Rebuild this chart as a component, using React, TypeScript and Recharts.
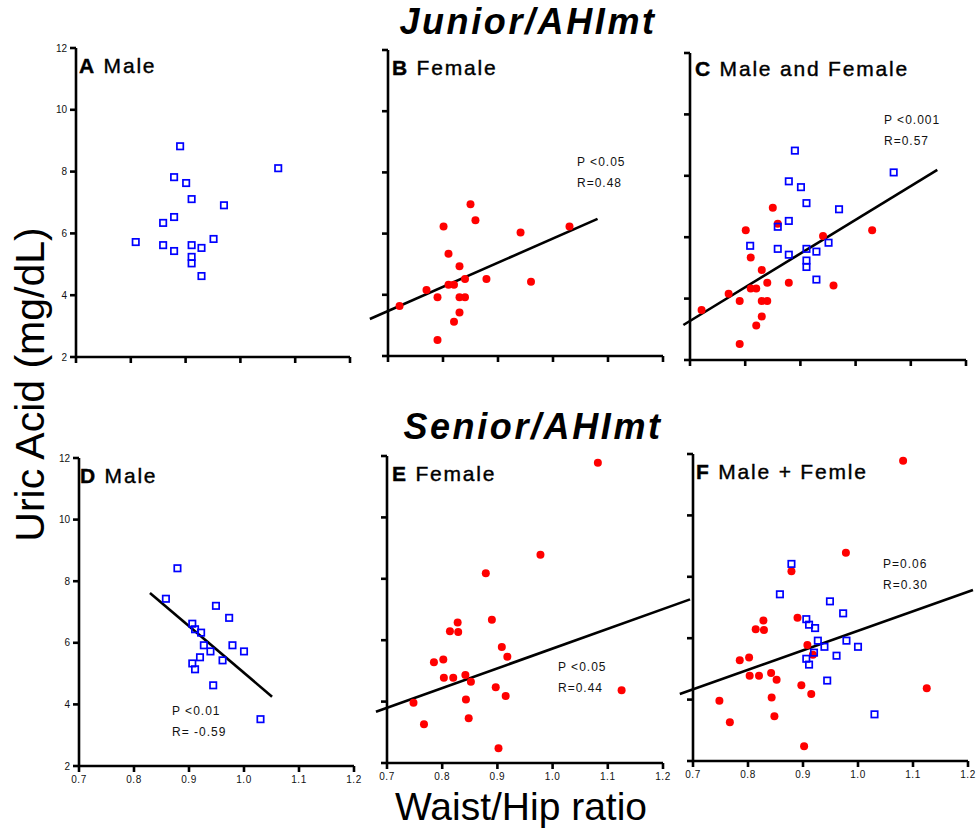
import React from 'react';
import { ScatterChart, Scatter, XAxis, YAxis, ReferenceLine } from 'recharts';

// axis ticks
const whrTicks = [0.7, 0.8, 0.9, 1.0, 1.1, 1.2];
const uaTicks = [2, 4, 6, 8, 10, 12];

// Junior, male (blue squares)
const juniorMaleWhr = [0.890, 1.069, 0.879, 0.901, 0.911, 0.970, 0.879, 0.859, 0.809, 0.859, 0.879, 0.911, 0.929, 0.951, 0.911, 0.911, 0.929];
const juniorMaleUa = [8.82, 8.11, 7.82, 7.63, 7.11, 6.91, 6.53, 6.34, 5.72, 5.62, 5.43, 5.62, 5.53, 5.82, 5.24, 5.03, 4.62];

// Junior, female (red dots)
const juniorFemaleWhr = [0.850, 0.859, 0.801, 0.941, 1.030, 0.810, 0.830, 0.840, 0.879, 0.960, 0.810, 0.820, 0.770, 0.790, 0.830, 0.840, 0.721, 0.830, 0.820, 0.790];
const juniorFemaleUa = [6.96, 6.44, 6.23, 6.04, 6.23, 5.34, 4.93, 4.52, 4.52, 4.43, 4.33, 4.33, 4.16, 3.92, 3.92, 3.92, 3.63, 3.42, 3.12, 2.52];

// Senior, male
const seniorMaleWhr = [0.879, 0.858, 0.949, 0.973, 0.906, 0.911, 0.922, 0.927, 0.979, 0.939, 1.000, 0.920, 0.961, 0.906, 0.911, 0.944, 1.030];
const seniorMaleUa = [8.42, 7.43, 7.20, 6.81, 6.62, 6.44, 6.33, 5.92, 5.92, 5.72, 5.72, 5.53, 5.43, 5.33, 5.14, 4.62, 3.52];

// Senior, female
const seniorFemaleWhr = [1.082, 0.978, 0.879, 0.890, 0.828, 0.814, 0.829, 0.908, 0.918, 0.802, 0.785, 0.842, 0.803, 0.820, 0.852, 0.897, 1.125, 0.915, 0.843, 0.748, 0.848, 0.767, 0.902];
const seniorFemaleUa = [11.78, 8.78, 8.18, 6.67, 6.58, 6.29, 6.27, 5.78, 5.46, 5.37, 5.28, 4.87, 4.78, 4.78, 4.65, 4.47, 4.37, 4.18, 4.07, 3.96, 3.46, 3.26, 2.48];

// regression lines: [x1, y1, x2, y2]
const fitB = [0.667, 3.21, 1.081, 6.48];
const fitC = [0.688, 3.14, 1.148, 8.19];
const fitD = [0.829, 7.62, 1.051, 4.25];
const fitE = [0.680, 3.67, 1.249, 7.33];
const fitF = [0.676, 4.18, 1.209, 7.57];

// panel headings and statistics
const panelLetters = ['A', 'B', 'C', 'D', 'E', 'F'];
const panelNames = ['Male', 'Female', 'Male and Female', 'Male', 'Female', 'Male + Femle'];
const statP = ['', 'P <0.05', 'P <0.001', 'P <0.01', 'P <0.05', 'P=0.06'];
const statR = ['', 'R=0.48', 'R=0.57', 'R= -0.59', 'R=0.44', 'R=0.30'];

type Pt = { x: number; y: number };
const toPoints = (xs: number[], ys: number[]): Pt[] => xs.map((x, i) => ({ x, y: ys[i] }));
const toSeg = (f: number[]) => [{ x: f[0], y: f[1] }, { x: f[2], y: f[3] }];

const jm = toPoints(juniorMaleWhr, juniorMaleUa);
const jf = toPoints(juniorFemaleWhr, juniorFemaleUa);
const sm = toPoints(seniorMaleWhr, seniorMaleUa);
const sf = toPoints(seniorFemaleWhr, seniorFemaleUa);

const FONT = 'Arial, "Liberation Sans", sans-serif';

const BlueSquare = (p: any) => (
  <rect x={p.cx - 3.2} y={p.cy - 3.2} width={6.4} height={6.4} fill="none" stroke="#0000ff" strokeWidth={1.7} />
);
const RedDot = (p: any) => <circle cx={p.cx} cy={p.cy} r={4} fill="#ff0000" />;

// font family comes from the page wrapper
const YTick = (p: any) => (
  <text x={p.x} y={p.y} dy={3.5} textAnchor="end" fontSize={10} fill="#111">
    {p.payload.value}
  </text>
);
const XTick = (p: any) => (
  <text x={p.x} y={p.y} dy={7} textAnchor="middle" fontSize={10} fill="#111" letterSpacing={0.6}>
    {Number(p.payload.value).toFixed(1)}
  </text>
);
const NoTick = () => <g />;

interface Box { x0: number; x1: number; top: number; bottom: number }

interface PanelProps {
  box: Box;
  male?: Pt[];
  female?: Pt[];
  fit?: number[];
  yLabels: boolean;
  xLabels: boolean;
}

const Panel: React.FC<PanelProps> = ({ box, male, female, fit, yLabels, xLabels }) => {
  const padL = 40, padT = 10, padR = 30, padB = 30;
  const w = box.x1 - box.x0 + padL + padR;
  const h = box.bottom - box.top + padT + padB;
  return (
    <div style={{ position: 'absolute', left: box.x0 - padL, top: box.top - padT }}>
      <ScatterChart width={w} height={h} margin={{ top: padT, right: padR, bottom: 0, left: 0 }}>
        <XAxis
          type="number" dataKey="x" domain={[0.7, 1.2]} ticks={whrTicks} height={padB}
          stroke="#000" strokeWidth={2.6} tickSize={6} tickMargin={4}
          tick={xLabels ? XTick : NoTick}
        />
        <YAxis
          type="number" dataKey="y" domain={[2, 12]} ticks={uaTicks} width={padL}
          stroke="#000" strokeWidth={2.6} tickSize={6} tickMargin={3}
          tick={yLabels ? YTick : NoTick}
        />
        {female && <Scatter data={female} fill="#ff0000" shape={RedDot} isAnimationActive={false} />}
        {male && <Scatter data={male} fill="#0000ff" shape={BlueSquare} isAnimationActive={false} />}
        {fit && (
          <ReferenceLine segment={toSeg(fit)} ifOverflow="visible" stroke="#000" strokeWidth={2.6} />
        )}
      </ScatterChart>
    </div>
  );
};

const boxes: Box[] = [
  { x0: 76, x1: 350, top: 48, bottom: 357 },
  { x0: 388, x1: 663, top: 50, bottom: 356 },
  { x0: 690, x1: 966, top: 53, bottom: 360 },
  { x0: 79, x1: 354, top: 458, bottom: 766 },
  { x0: 387, x1: 663, top: 456, bottom: 763 },
  { x0: 693, x1: 968, top: 454, bottom: 761 },
];

// text placed by baseline: top = baseline - 0.846 * font size (line-height 1)
const headPos = [
  [79, 73], [392, 75], [695, 76], [80, 483], [392, 481], [696, 479],
];
const statPos = [
  [0, 0], [577, 166], [884, 124], [172, 715], [558, 671], [883, 568],
];

const txt = (left: number, baseline: number, size: number): React.CSSProperties => ({
  position: 'absolute',
  left,
  top: baseline - 0.846 * size,
  fontSize: size,
  lineHeight: 1,
  whiteSpace: 'nowrap',
});

const App: React.FC = () => {
  return (
    <div style={{ position: 'absolute', left: 0, top: 0, width: 976, height: 829, background: '#fff', overflow: 'hidden', fontFamily: FONT, color: '#000' }}>
      <Panel box={boxes[0]} male={jm} yLabels xLabels={false} />
      <Panel box={boxes[1]} female={jf} fit={fitB} yLabels={false} xLabels={false} />
      <Panel box={boxes[2]} male={jm} female={jf} fit={fitC} yLabels={false} xLabels={false} />
      <Panel box={boxes[3]} male={sm} fit={fitD} yLabels xLabels />
      <Panel box={boxes[4]} female={sf} fit={fitE} yLabels={false} xLabels />
      <Panel box={boxes[5]} male={sm} female={sf} fit={fitF} yLabels={false} xLabels />

      <div style={{ ...txt(328, 34, 36), width: 400, textAlign: 'center', fontWeight: 'bold', fontStyle: 'italic', letterSpacing: 2.6 }}>
        Junior/AHImt
      </div>
      <div style={{ ...txt(333, 439, 36), width: 400, textAlign: 'center', fontWeight: 'bold', fontStyle: 'italic', letterSpacing: 2.6 }}>
        Senior/AHImt
      </div>
      <div style={{ ...txt(321, 820, 39), width: 400, textAlign: 'center' }}>Waist/Hip ratio</div>
      <div
        style={{
          position: 'absolute', left: -170, top: 363.5, width: 400, height: 41,
          fontSize: 41, lineHeight: 1, textAlign: 'center', whiteSpace: 'nowrap',
          transform: 'rotate(-90deg)',
        }}
      >
        Uric Acid (mg/dL)
      </div>
      {panelLetters.map((l, i) => (
        <div key={l} style={{ ...txt(headPos[i][0], headPos[i][1], 21), letterSpacing: 1.8, WebkitTextStroke: '0.4px #000' }}>
          <b>{l}</b> {panelNames[i]}
        </div>
      ))}
      {statP.map((p, i) =>
        p ? (
          <React.Fragment key={i}>
            <div style={{ ...txt(statPos[i][0], statPos[i][1], 12), letterSpacing: 1, color: '#111' }}>{p}</div>
            <div style={{ ...txt(statPos[i][0], statPos[i][1] + 21, 12), letterSpacing: 1, color: '#111' }}>{statR[i]}</div>
          </React.Fragment>
        ) : null
      )}
    </div>
  );
};

export default App;
